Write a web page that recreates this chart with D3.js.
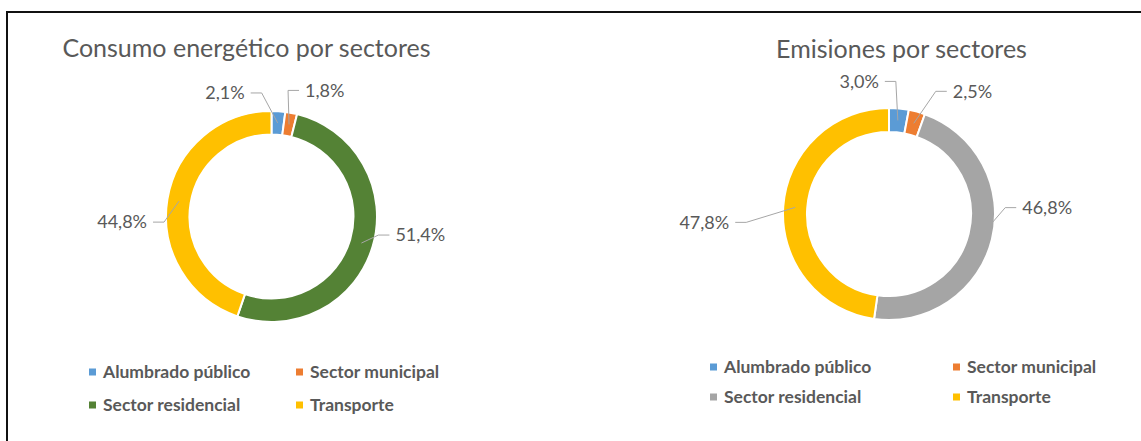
<!DOCTYPE html>
<html>
<head>
<meta charset="utf-8">
<script src="https://cdn.jsdelivr.net/npm/d3@7"></script>
<style>
  html, body { margin: 0; padding: 0; background: #fff; }
  svg { display: block; font-family: Lato, "Open Sans", sans-serif; }
</style>
</head>
<body>
<svg id="chart" width="1141" height="441"></svg>
<script>
// data
const categories = ['Alumbrado público', 'Sector municipal', 'Sector residencial', 'Transporte']
const consumoValues = [2.1, 1.8, 51.4, 44.8]
const emisionesValues = [3.0, 2.5, 46.8, 47.8]
const consumoColors = ['#5B9BD5', '#ED7D31', '#548235', '#FFC000']
const emisionesColors = ['#5B9BD5', '#ED7D31', '#A5A5A5', '#FFC000']

const textColor = '#595959'
const leaderColor = '#A6A6A6'

// spanish decimal comma
const es = d3.formatLocale({decimal: ',', thousands: '.', grouping: [3], currency: ['', '€']})
const pct = v => es.format('.1f')(v) + '%'

const svg = d3.select('#chart')

// frame of the screenshot (black line on top and left)
svg.append('path')
  .attr('d', 'M7,441 V12 H1141')
  .attr('fill', 'none')
  .attr('stroke', '#111')
  .attr('stroke-width', 2)

// layout for each chart: center, radii, where the labels sit (relative to the slice anchor)
const charts = [
  {
    title: 'Consumo energético por sectores',
    values: consumoValues,
    colors: consumoColors,
    titleX: 246.5, titleY: 57,
    cx: 271.5, cy: 216.5, outer: 105.5, inner: 82,
    labelOff: [[-33, -30, 'end'], [16, -34, 'start'], [34, -8, 'start'], [-32, 21, 'end']],
    legendX: [89, 296], legendY: [372, 405]
  },
  {
    title: 'Emisiones por sectores',
    values: emisionesValues,
    colors: emisionesColors,
    titleX: 901.5, titleY: 58,
    cx: 889, cy: 214, outer: 106, inner: 82,
    labelOff: [[-19, -39, 'end'], [39, -32, 'start'], [42, -29, 'start'], [-66, 15, 'end']],
    legendX: [710, 953], legendY: [367, 397]
  }
]

charts.forEach(c => {
  const g = svg.append('g')

  g.append('text')
    .attr('x', c.titleX)
    .attr('y', c.titleY)
    .attr('text-anchor', 'middle')
    .attr('fill', textColor)
    .style('font-size', '25px')
    .style('font-weight', 400)
    .text(c.title)

  const pie = d3.pie().sort(null).value(d => d)
  const arcs = pie(c.values)
  const arc = d3.arc().innerRadius(c.inner).outerRadius(c.outer)
  const mid = (c.inner + c.outer) / 2
  const anchorArc = d3.arc().innerRadius(mid).outerRadius(mid)

  const donut = g.append('g').attr('transform', `translate(${c.cx},${c.cy})`)

  donut.selectAll('path.slice')
    .data(arcs)
    .enter()
    .append('path')
    .attr('class', 'slice')
    .attr('d', arc)
    .attr('fill', (d, i) => c.colors[i])
    .attr('stroke', '#fff')
    .attr('stroke-width', 2)

  // leader lines + labels
  arcs.forEach((d, i) => {
    const a = anchorArc.centroid(d)
    const off = c.labelOff[i]
    const tx = a[0] + off[0]
    const ty = a[1] + off[1]
    const dir = off[2] === 'end' ? 1 : -1 // direction from the text towards the slice
    const lineEnd = [tx + dir * 6, ty]
    const elbow = [lineEnd[0] + dir * 11, ty]

    donut.append('path')
      .attr('d', d3.line()([lineEnd, elbow, a]))
      .attr('fill', 'none')
      .attr('stroke', leaderColor)
      .attr('stroke-width', 1)

    donut.append('text')
      .attr('x', tx)
      .attr('y', ty)
      .attr('dy', '0.35em')
      .attr('text-anchor', off[2])
      .attr('fill', textColor)
      .style('font-size', '18px')
      .text(pct(d.data))
  })

  // legend, two by two
  const legend = g.selectAll('g.legend')
    .data(categories)
    .enter()
    .append('g')
    .attr('class', 'legend')
    .attr('transform', (d, i) => `translate(${c.legendX[i % 2]},${c.legendY[Math.floor(i / 2)]})`)

  legend.append('rect')
    .attr('x', 0)
    .attr('y', -3.5)
    .attr('width', 7)
    .attr('height', 7)
    .attr('fill', (d, i) => c.colors[i])

  legend.append('text')
    .attr('x', 14)
    .attr('y', 0)
    .attr('dy', '0.35em')
    .attr('fill', textColor)
    .style('font-size', '17.5px')
    .style('font-weight', 'bold')
    .text(d => d)
})
</script>
</body>
</html>
